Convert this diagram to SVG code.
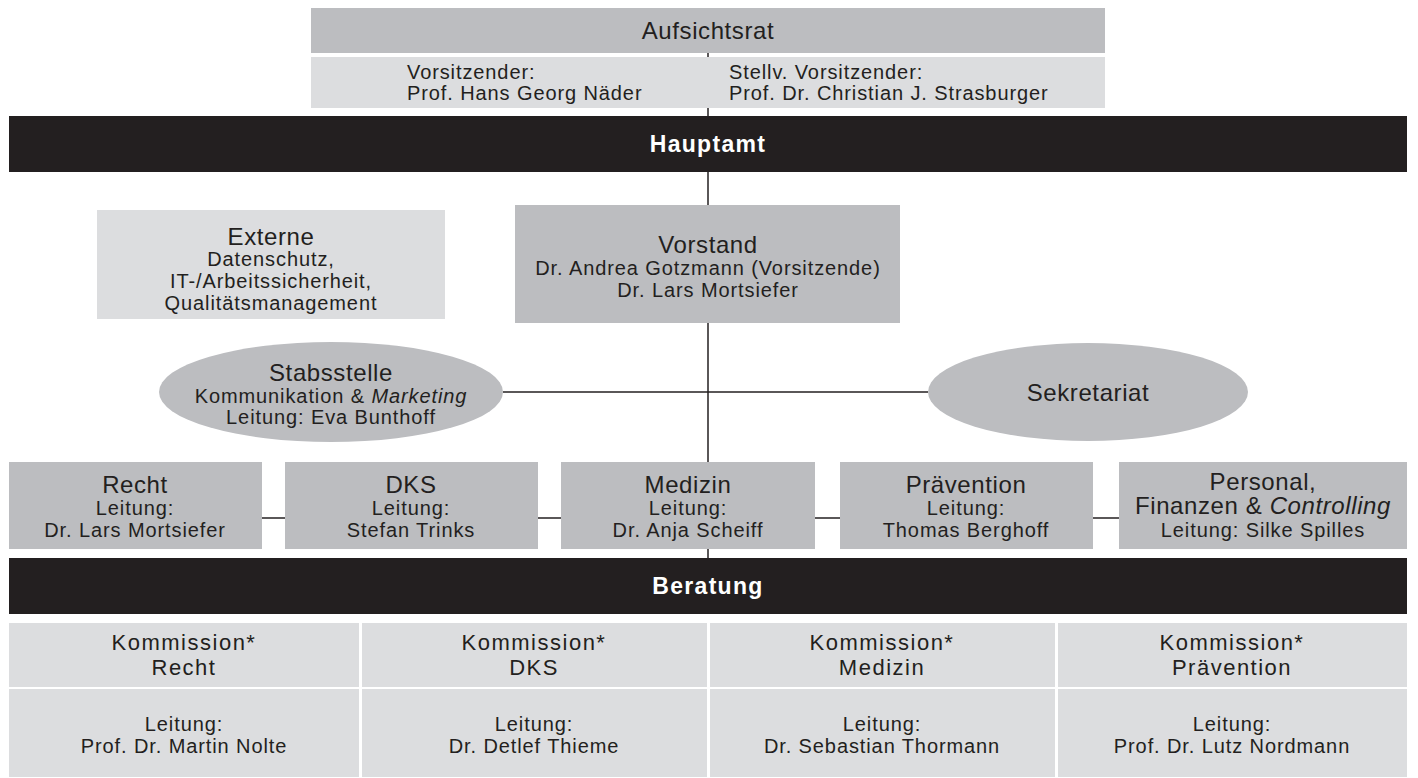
<svg xmlns="http://www.w3.org/2000/svg" width="1418" height="778" viewBox="0 0 1418 778">
<style>
.mid{fill:#bcbdc0}
.light{fill:#dcdddf}
.dark{fill:#231f20}
.ln{stroke:#231f20;stroke-width:1.5;fill:none}
text{font-family:"Liberation Sans",Arial,sans-serif;fill:#231f20;text-anchor:middle;font-size:20px;letter-spacing:0.9px}
.h{font-size:24px;letter-spacing:0.6px}
.k{font-size:22px;letter-spacing:1.5px}
.s{text-anchor:start}
.bar{font-weight:bold;fill:#ffffff;font-size:23px;letter-spacing:1.3px}
.i{font-style:italic}
</style>
<rect x="0" y="0" width="1418" height="778" fill="#ffffff"/>
<g id="connectors">
<line class="ln" x1="708" y1="53" x2="708" y2="57"/>
<line class="ln" x1="708" y1="108" x2="708" y2="116"/>
<line class="ln" x1="708" y1="172" x2="708" y2="205"/>
<line class="ln" x1="708" y1="323" x2="708" y2="462"/>
<line class="ln" x1="708" y1="549" x2="708" y2="558"/>
<line class="ln" x1="503" y1="392" x2="928" y2="392"/>
<line class="ln" x1="262" y1="518" x2="285" y2="518"/>
<line class="ln" x1="538" y1="518" x2="561" y2="518"/>
<line class="ln" x1="815" y1="518" x2="840" y2="518"/>
<line class="ln" x1="1093" y1="518" x2="1119" y2="518"/>
</g>
<g id="aufsichtsrat">
<rect class="mid" x="311" y="8" width="794" height="45"/>
<text class="h" x="708" y="39">Aufsichtsrat</text>
</g>
<g id="aufsichtsrat-mitglieder">
<rect class="light" x="311" y="57" width="794" height="51"/>
<text class="s" x="407" y="79">Vorsitzender:</text>
<text class="s" x="407" y="100">Prof. Hans Georg Näder</text>
<text class="s" x="729" y="79">Stellv. Vorsitzender:</text>
<text class="s" x="729" y="100">Prof. Dr. Christian J. Strasburger</text>
</g>
<g id="hauptamt">
<rect class="dark" x="9" y="116" width="1398" height="56"/>
<text class="bar" x="708" y="152">Hauptamt</text>
</g>
<g id="externe">
<rect class="light" x="97" y="210" width="348" height="109"/>
<text class="h" x="271" y="245">Externe</text>
<text x="271" y="266">Datenschutz,</text>
<text x="271" y="288">IT-/Arbeitssicherheit,</text>
<text x="271" y="310">Qualitätsmanagement</text>
</g>
<g id="vorstand">
<rect class="mid" x="515" y="205" width="385" height="118"/>
<text class="h" x="708" y="253">Vorstand</text>
<text x="708" y="275">Dr. Andrea Gotzmann (Vorsitzende)</text>
<text x="708" y="297">Dr. Lars Mortsiefer</text>
</g>
<g id="stabsstelle">
<ellipse class="mid" cx="331" cy="392" rx="172" ry="50"/>
<text class="h" x="331" y="381">Stabsstelle</text>
<text x="331" y="403">Kommunikation &amp; <tspan class="i">Marketing</tspan></text>
<text x="331" y="424">Leitung: Eva Bunthoff</text>
</g>
<g id="sekretariat">
<ellipse class="mid" cx="1088" cy="392" rx="160" ry="49"/>
<text class="h" x="1088" y="401">Sekretariat</text>
</g>
<g id="recht">
<rect class="mid" x="9" y="462" width="253" height="87"/>
<text class="h" x="135" y="493">Recht</text>
<text x="135" y="515">Leitung:</text>
<text x="135" y="537">Dr. Lars Mortsiefer</text>
</g>
<g id="dks">
<rect class="mid" x="285" y="462" width="253" height="87"/>
<text class="h" x="411" y="493">DKS</text>
<text x="411" y="515">Leitung:</text>
<text x="411" y="537">Stefan Trinks</text>
</g>
<g id="medizin">
<rect class="mid" x="561" y="462" width="254" height="87"/>
<text class="h" x="688" y="493">Medizin</text>
<text x="688" y="515">Leitung:</text>
<text x="688" y="537">Dr. Anja Scheiff</text>
</g>
<g id="praevention">
<rect class="mid" x="840" y="462" width="253" height="87"/>
<text class="h" x="966" y="493">Prävention</text>
<text x="966" y="515">Leitung:</text>
<text x="966" y="537">Thomas Berghoff</text>
</g>
<g id="personal">
<rect class="mid" x="1119" y="462" width="288" height="87"/>
<text class="h" x="1263" y="490">Personal,</text>
<text class="h" x="1263" y="514">Finanzen &amp; <tspan class="i">Controlling</tspan></text>
<text x="1263" y="537">Leitung: Silke Spilles</text>
</g>
<g id="beratung">
<rect class="dark" x="9" y="558" width="1398" height="56"/>
<text class="bar" x="708" y="594">Beratung</text>
</g>
<g id="kommission-recht">
<rect class="light" x="9" y="623" width="350" height="64"/>
<rect class="light" x="9" y="689" width="350" height="88"/>
<text class="k" x="184" y="650">Kommission*</text>
<text class="k" x="184" y="675">Recht</text>
<text x="184" y="731">Leitung:</text>
<text x="184" y="753">Prof. Dr. Martin Nolte</text>
</g>
<g id="kommission-dks">
<rect class="light" x="362" y="623" width="345" height="64"/>
<rect class="light" x="362" y="689" width="345" height="88"/>
<text class="k" x="534" y="650">Kommission*</text>
<text class="k" x="534" y="675">DKS</text>
<text x="534" y="731">Leitung:</text>
<text x="534" y="753">Dr. Detlef Thieme</text>
</g>
<g id="kommission-medizin">
<rect class="light" x="710" y="623" width="345" height="64"/>
<rect class="light" x="710" y="689" width="345" height="88"/>
<text class="k" x="882" y="650">Kommission*</text>
<text class="k" x="882" y="675">Medizin</text>
<text x="882" y="731">Leitung:</text>
<text x="882" y="753">Dr. Sebastian Thormann</text>
</g>
<g id="kommission-praevention">
<rect class="light" x="1058" y="623" width="349" height="64"/>
<rect class="light" x="1058" y="689" width="349" height="88"/>
<text class="k" x="1232" y="650">Kommission*</text>
<text class="k" x="1232" y="675">Prävention</text>
<text x="1232" y="731">Leitung:</text>
<text x="1232" y="753">Prof. Dr. Lutz Nordmann</text>
</g>
</svg>
